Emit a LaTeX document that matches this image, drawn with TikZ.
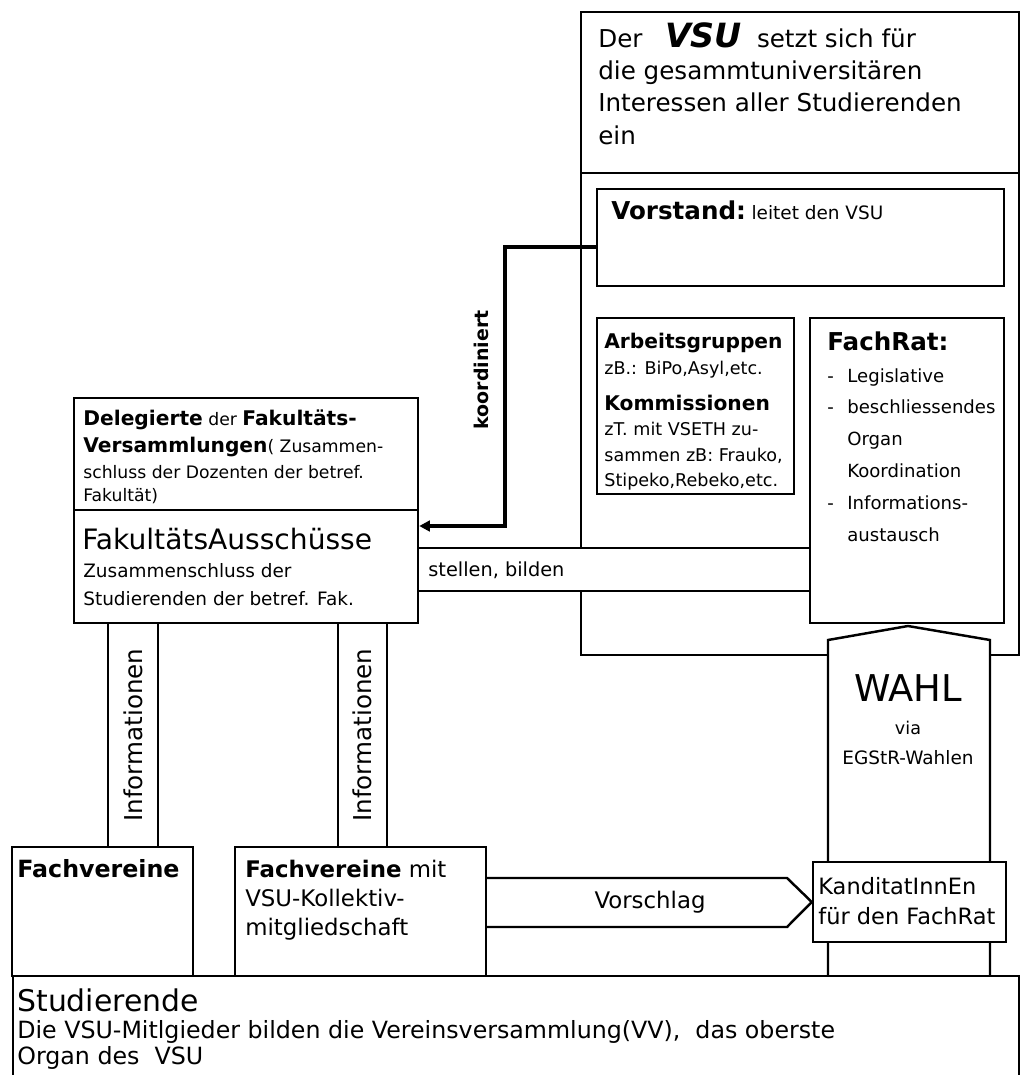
\documentclass[tikz,border=0pt]{standalone}
\usepackage{fontspec}
\setmainfont{DejaVu Sans}
\usetikzlibrary{positioning, fit, arrows.meta}

\begin{document}
\begin{tikzpicture}[x=0.02cm, y=-0.02cm,
    box/.style={draw, line width=1.4pt, fill=white, inner sep=0pt},
    band/.style={draw, line width=1.4pt, fill=white},
    txt/.style={inner sep=0pt, align=left, anchor=north west},
    bandtext/.style={inner sep=0pt, font=\fontsize{14}{16}\selectfont},
    arrow/.style={-{Triangle[length=6pt, width=6pt]}, line width=2.4pt},
    edge/.style={line width=1.4pt}
  ]
  \useasboundingbox (0,0) rectangle (1025,1075);
  \fill[white] (0,0) rectangle (1025,1075);

  % VSU (top right)
  \node[box, fit={(581,12) (1019,655)}] (vsu) {};
  \draw[edge] (581,173) -- (1019,173);
  \node[txt, font=\fontsize{14}{18.4}\selectfont] (vsutext) at (598,22)
    {Der\hspace{0.45cm}{\fontsize{19}{18}\selectfont\bfseries\itshape VSU}\hspace{0.3cm}setzt sich für\\
     die gesammtuniversitären\\
     Interessen aller Studierenden\\
     ein};

  % Vorstand
  \node[box, fit={(597,189) (1004,286)}] (vorstand) {};
  \node[txt] (vorstandtext) at (611,200)
    {{\fontsize{14}{16}\selectfont\bfseries Vorstand:}~{\fontsize{10.5}{12}\selectfont leitet den VSU}};

  % Arbeitsgruppen / Kommissionen
  \node[box, fit={(597,318) (794,494)}] (arbeit) {};
  \node[txt, font=\fontsize{10}{14.5}\selectfont] (arbeittext) at (604,333)
    {{\fontsize{11.5}{14.5}\selectfont\bfseries Arbeitsgruppen}\\
     zB.: BiPo,Asyl,etc.\\[6pt]
     {\fontsize{11.5}{14.5}\selectfont\bfseries Kommissionen}\\
     zT. mit VSETH zu-\\
     sammen zB: Frauko,\\
     Stipeko,Rebeko,etc.};

  % FachRat
  \node[box, fit={(810,318) (1004,623)}] (fachrat) {};
  \node[txt, font=\fontsize{10.3}{18.2}\selectfont] (fachrattext) at (827,331)
    {{\fontsize{14}{18.2}\selectfont\bfseries FachRat:}\\
     \makebox[0.4cm][l]{-}Legislative\\
     \makebox[0.4cm][l]{-}beschliessendes\\
     \hspace*{0.4cm}Organ\\
     \hspace*{0.4cm}Koordination\\
     \makebox[0.4cm][l]{-}Informations-\\
     \hspace*{0.4cm}austausch};

  % Fakultaet
  \node[box, fit={(74,398) (418,510)}] (fakoben) {};
  \node[box, fit={(74,510) (418,623)}] (fakunten) {};
  \node[txt, font=\fontsize{9.8}{15}\selectfont] (delegtext) at (83,410)
    {{\fontsize{11.5}{15}\selectfont\bfseries Delegierte} der {\fontsize{11.5}{15}\selectfont\bfseries Fakultäts-}\\
     {\fontsize{11.5}{15}\selectfont\bfseries Versammlungen}( Zusammen-\\
     schluss der Dozenten der betref.\\[-2pt]
     Fakultät)};
  \node[txt, font=\fontsize{16}{18}\selectfont] (fakaustext) at (82,528) {FakultätsAusschüsse};
  \node[txt, font=\fontsize{10.5}{15.9}\selectfont] (fakstudtext) at (83,563)
    {Zusammenschluss der\\
     Studierenden der betref. Fak.};

  % stellen, bilden
  \node[band, inner sep=0pt, fit={(418,548) (810,591)}] (stellen) {};
  \node[inner sep=0pt, anchor=west, font=\fontsize{11}{13}\selectfont] (stellentext) at (428,570) {stellen, bilden};

  % koordiniert
  \coordinate (kbend) at (505,526);
  \draw[arrow] ([yshift=-0.19cm]vorstand.west) -| (kbend) -- (kbend -| fakunten.east);
  \node[rotate=90, inner sep=0pt, font=\fontsize{10.8}{12}\selectfont\bfseries] (koordtext) at (481,370) {koordiniert};

  % Wahl
  \coordinate (wahltop) at (908,626);
  \draw[band] (828,976) -- (828,640) -- (wahltop) -- (990,640) -- (990,976);
  \node[inner sep=0pt, font=\fontsize{21}{24}\selectfont] (wahl) at (908,688) {WAHL};
  \node[inner sep=0pt, font=\fontsize{10}{12}\selectfont] (via) at (908,728) {via};
  \node[inner sep=0pt, font=\fontsize{10.5}{12}\selectfont] (egstr) at (908,758) {EGStR-Wahlen};

  % Fachvereine
  \node[box, fit={(12,847) (193,976)}] (fv) {};
  \node[txt, font=\fontsize{13.5}{16}\selectfont\bfseries] (fvtext) at (17,859) {Fachvereine};
  \node[box, fit={(235,847) (486,976)}] (fvmit) {};
  \node[txt, font=\fontsize{13}{16.5}\selectfont] (fvmittext) at (245,860)
    {\textbf{Fachvereine} mit\\
     VSU-Kollektiv-\\
     mitgliedschaft};

  % Informationen
  \node[band, inner sep=0pt, fit={(108,623) (158,847)}] (info1) {};
  \node[rotate=90, bandtext] at (info1.center) {Informationen};
  \node[band, inner sep=0pt, fit={(338,623) (387,847)}] (info2) {};
  \node[rotate=90, bandtext] at (info2.center) {Informationen};

  % Kandidaten
  \node[box, fit={(813,862) (1006,942)}] (kand) {};
  \node[txt, font=\fontsize{12.8}{17}\selectfont] (kandtext) at (818,877)
    {KanditatInnEn\\
     für den FachRat};

  % Vorschlag
  \coordinate (vtop) at (787,878);
  \coordinate (vbot) at (787,927);
  \draw[edge] (fvmit.east |- vtop) -- (vtop) -- (kand.west) -- (vbot) -- (fvmit.east |- vbot);
  \node[inner sep=0pt, font=\fontsize{13}{16}\selectfont] (vorschlag) at (650,902) {Vorschlag};

  % Studierende
  \node[box, fit={(13,976) (1019,1095)}] (stud) {};
  \node[txt, font=\fontsize{17}{18}\selectfont] (studtitel) at (17,988) {Studierende};
  \node[txt, font=\fontsize{13.5}{15}\selectfont] (studtext) at (17,1020)
    {Die VSU-Mitlgieder bilden die Vereinsversammlung(VV),~~das oberste\\
     Organ des~~VSU};

\end{tikzpicture}
\end{document}
